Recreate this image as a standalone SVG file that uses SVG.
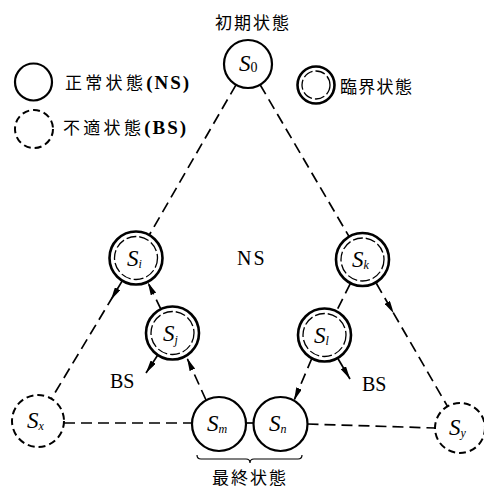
<svg xmlns="http://www.w3.org/2000/svg" width="484" height="487" viewBox="0 0 484 487">
  <style>
    .ns { fill: #fff; stroke: #000; stroke-width: 2.2; }
    .bs { fill: #fff; stroke: #000; stroke-width: 2; stroke-dasharray: 7 4; }
    .crit { fill: #fff; stroke: #000; stroke-width: 2.6; }
    .crit-in { fill: none; stroke: #000; stroke-width: 1.3; stroke-dasharray: 10 3; }
    .edge { fill: none; stroke: #000; stroke-width: 1.7; stroke-dasharray: 11 6; }
    .solid { fill: none; stroke: #000; stroke-width: 1.7; }
    .brace { fill: none; stroke: #000; stroke-width: 1.2; }
    .s { font-family: "Liberation Serif", serif; font-style: italic; font-size: 23px; fill: #000; }
    .sub { font-size: 12px; }
    .jp { font-family: "Liberation Serif", "Noto Sans CJK JP", serif; font-size: 17px; fill: #000; }
    .lat { font-family: "Liberation Serif", serif; font-size: 20px; fill: #000; }
  </style>
  <defs>
    <marker id="arr" viewBox="0 0 13 6" refX="13" refY="3" markerWidth="13" markerHeight="6" orient="auto" markerUnits="userSpaceOnUse">
      <path d="M0,0 L13,3 L0,6 Z" fill="#000"/>
    </marker>
  </defs>

  <!-- titles -->
  <text class="jp" x="253" y="29" text-anchor="middle" letter-spacing="2">初期状態</text>
  <text class="jp" x="250" y="484" text-anchor="middle" font-size="18" letter-spacing="2">最終状態</text>
  <text class="lat" x="237" y="265" letter-spacing="2">NS</text>
  <text class="lat" x="110" y="388" font-size="19">BS</text>
  <text class="lat" x="362" y="391" font-size="19">BS</text>

  <!-- legend -->
  <g id="legend">
    <circle cx="33.5" cy="82" r="18.5" class="ns"/>
    <text class="jp" x="65" y="89" font-size="18"><tspan letter-spacing="3.3">正常状態</tspan><tspan font-weight="bold" font-size="19" letter-spacing="2">(NS)</tspan></text>
    <circle cx="34" cy="129" r="19" class="bs"/>
    <text class="jp" x="63" y="134" font-size="18"><tspan letter-spacing="3.3">不適状態</tspan><tspan font-weight="bold" font-size="19" letter-spacing="2">(BS)</tspan></text>
    <circle cx="316" cy="85" r="18.5" class="crit"/>
    <circle cx="316" cy="85" r="14" class="crit-in"/>
    <text class="jp" x="340" y="93" font-size="16" letter-spacing="1.3">臨界状態</text>
  </g>

  <!-- connectors -->
  <g id="connectors">
    <path class="edge" d="M236,84.8 L149,235.5"/>
    <path class="edge" d="M260.1,84.7 L349.4,237.1"/>
    <path class="edge" d="M122.1,281.1 L110.8,300 L51.4,398.7" marker-mid="url(#arr)"/>
    <path class="edge" d="M161.1,309.6 L147.8,282.3" marker-end="url(#arr)"/>
    <path class="solid" d="M157.8,355 L146,373" marker-end="url(#arr)"/>
    <path class="edge" d="M206,400 L187,358" marker-end="url(#arr)"/>
    <path class="edge" d="M376.3,283.3 L393.8,313.6 L447.5,406.4" marker-mid="url(#arr)"/>
    <path class="edge" d="M350.3,283.6 L336.4,311.3"/>
    <path class="solid" d="M337.6,358 L350,379" marker-end="url(#arr)"/>
    <path class="edge" d="M312,358 L294,400.5" marker-end="url(#arr)"/>
    <path class="edge" d="M64,423 L192,423"/>
    <path class="solid" d="M246,423 L253.5,423"/>
    <path class="edge" d="M307.5,424 L435,428"/>
    <path class="brace" d="M197,455 Q197,459 201,459 L246,459 Q250,459 250,463 Q250,459 254,459 L298,459 Q302,459 302,455"/>
  </g>

  <!-- nodes -->
  <g id="s0">
    <circle cx="248" cy="64" r="24" class="ns"/>
    <text class="s" x="239" y="71">S<tspan font-style="normal" font-size="14" dy="1">0</tspan></text>
  </g>
  <g id="si">
    <circle cx="136" cy="258" r="26.5" class="crit"/>
    <circle cx="136" cy="258" r="21.5" class="crit-in"/>
    <text class="s" x="127" y="266">S<tspan class="sub" dy="2">i</tspan></text>
  </g>
  <g id="sj">
    <circle cx="172.5" cy="333" r="26.5" class="crit"/>
    <circle cx="172.5" cy="333" r="21.5" class="crit-in"/>
    <text class="s" x="163" y="341">S<tspan class="sub" dy="3">j</tspan></text>
  </g>
  <g id="sk">
    <circle cx="362.5" cy="259.5" r="26.5" class="crit"/>
    <circle cx="362.5" cy="259.5" r="21.5" class="crit-in"/>
    <text class="s" x="352" y="267">S<tspan class="sub" dy="2">k</tspan></text>
  </g>
  <g id="sl">
    <circle cx="324.5" cy="335" r="26.5" class="crit"/>
    <circle cx="324.5" cy="335" r="21.5" class="crit-in"/>
    <text class="s" x="314" y="343">S<tspan class="sub" dy="2">l</tspan></text>
  </g>
  <g id="sx">
    <circle cx="38" cy="421" r="26" class="bs"/>
    <text class="s" x="27" y="428">S<tspan class="sub" dy="2">x</tspan></text>
  </g>
  <g id="sm">
    <circle cx="219" cy="424" r="27" class="ns"/>
    <text class="s" x="207" y="431">S<tspan class="sub" dy="2" font-size="10">m</tspan></text>
  </g>
  <g id="sn">
    <circle cx="280.5" cy="424" r="27" class="ns"/>
    <text class="s" x="269" y="431">S<tspan class="sub" dy="2" font-size="10">n</tspan></text>
  </g>
  <g id="sy">
    <circle cx="460" cy="428" r="25" class="bs"/>
    <text class="s" x="449" y="435">S<tspan class="sub" dy="2">y</tspan></text>
  </g>
</svg>
